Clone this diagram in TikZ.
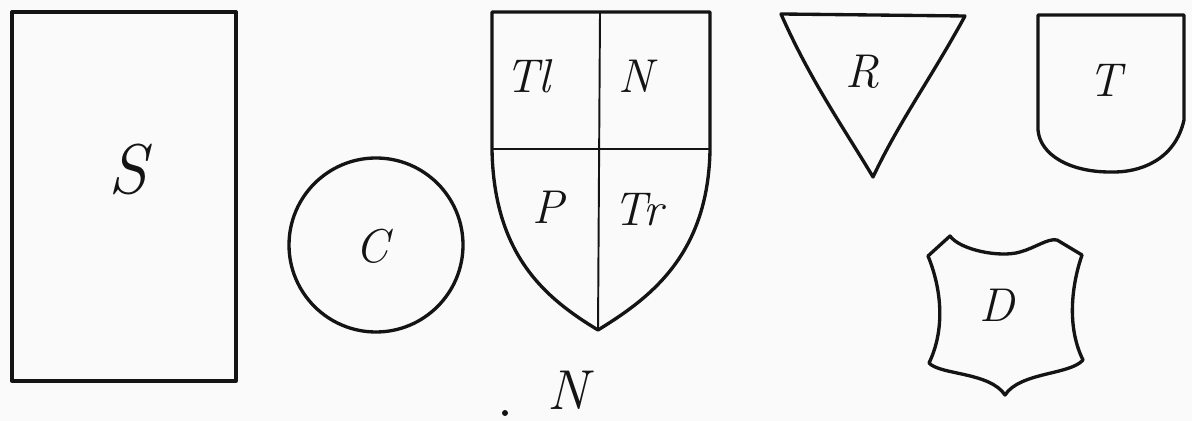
\documentclass[tikz,border=0pt]{standalone}
\usepackage{tikz}
\usetikzlibrary{positioning}
\definecolor{hsink}{RGB}{20,20,20}
\definecolor{hspaper}{RGB}{250,250,250}
\tikzset{
  hs/.style={line width=1.9pt, draw=hsink, line join=round, line cap=round},
  hsthin/.style={line width=1.1pt, draw=hsink},
  hslbl/.style={font=\fontsize{27}{27}\selectfont\itshape, text=hsink, inner sep=0pt},
  hsbig/.style={hslbl, font=\fontsize{40}{40}\selectfont\itshape},
}
\begin{document}
\begin{tikzpicture}[x=0.02cm, y=-0.02cm]
    \fill[hspaper] (0,0) rectangle (1192,421);
    \useasboundingbox (0,0) rectangle (1192,421);

    % S: rectangle
    \draw[hs] (12,12) rectangle (236,381);
    \node[hsbig] (sq) at (128,170) {S};

    % C: circle
    \draw[hs] (376,245) circle (87);
    \node[hslbl] (circ) at (372,246) {C};

    % quartered shield
    \draw[hs] (492,12) -- (710,12) -- (710,150)
      .. controls (708,255) and (650,298) .. (598,330)
      .. controls (545,298) and (494,255) .. (492,150) -- cycle;
    \draw[hsthin] (492,149) -- (710,149);
    \draw[hsthin] (600,12) -- (598,330);
    \node[hslbl] (tl) at (528,76) {Tl};
    \node[hslbl] (nq) at (636,76) {N};
    \node[hslbl] (pq) at (548,207) {P};
    \node[hslbl] (tr) at (638,210) {Tr};

    % R: pointed shield
    \draw[hs] (781,14) -- (965,16)
      .. controls (930,80) and (900,120) .. (873,177)
      .. controls (845,130) and (810,80) .. cycle;
    \node[hslbl] (rs) at (862,72) {R};

    % T: round shield
    \draw[hs] (1038,15) -- (1184,15) -- (1184,120)
      .. controls (1175,160) and (1140,173) .. (1110,172)
      .. controls (1070,172) and (1040,155) .. (1038,130) -- cycle;
    \node[hslbl] (ts) at (1105,80) {T};

    % D: horned shield
    \draw[hs] (950,236) .. controls (960,250) and (1000,258) .. (1020,252)
      .. controls (1035,248) and (1048,238) .. (1057,240)
      -- (1082,255)
      .. controls (1070,290) and (1068,330) .. (1083,360)
      .. controls (1070,375) and (1020,372) .. (1005,395)
      .. controls (990,372) and (940,375) .. (929,363)
      .. controls (945,330) and (942,290) .. (928,256)
      -- cycle;
    \node[hslbl] (ds) at (997,305) {D};

    % bottom mark
    \fill[hsink] (505,413) circle (3);
    \node[hslbl, font=\fontsize{32}{32}\selectfont\itshape] (nb) at (568,390) {N};
  \end{tikzpicture}
\end{document}
